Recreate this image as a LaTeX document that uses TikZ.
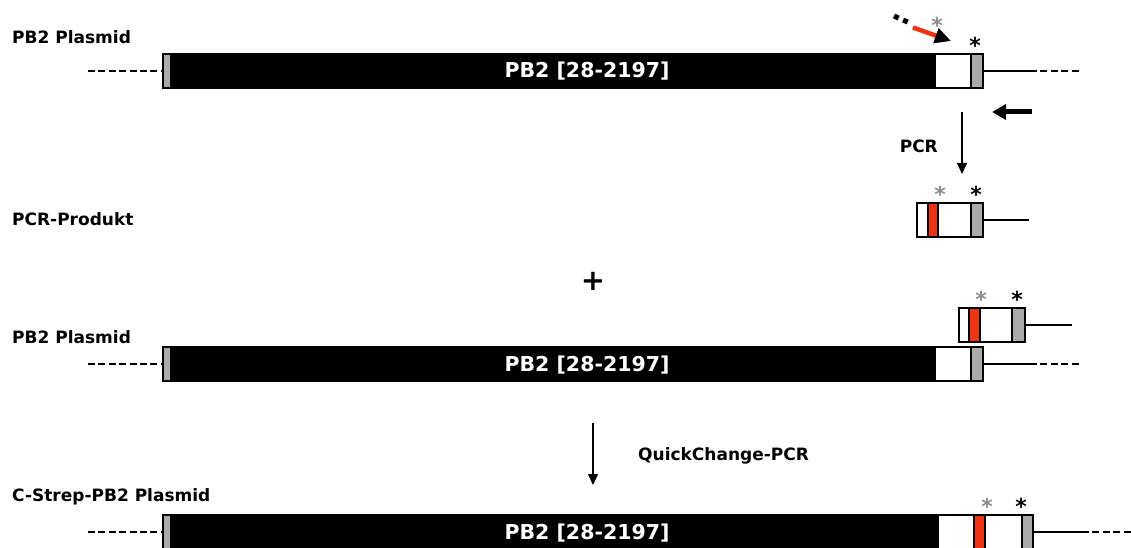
\documentclass[tikz,border=0pt]{standalone}
\usepackage{fontspec}
\setmainfont{DejaVu Sans}
\usetikzlibrary{arrows.meta}
\definecolor{capgray}{RGB}{170,170,170}
\definecolor{mutred}{RGB}{238,52,18}
\definecolor{stargray}{RGB}{140,140,140}
\tikzset{
  seg/.style={rectangle, draw=black, line width=1.4pt, inner sep=0pt, outer sep=0pt,
              minimum height=34pt, anchor=north west},
  graybox/.style={seg, fill=capgray},
  blackbox/.style={seg, fill=black},
  whitebox/.style={seg, fill=white},
  redbox/.style={seg, fill=mutred},
  tail/.style={line width=2.6pt},
  dashtail/.style={line width=2.6pt, dash pattern=on 7pt off 3.4pt},
  lbl/.style={font=\bfseries\fontsize{17}{20}\selectfont, anchor=base west, inner sep=0pt},
  bartext/.style={font=\bfseries\fontsize{20.5}{22}\selectfont, text=white, anchor=base, inner sep=0pt},
  star/.style={font=\bfseries\fontsize{22}{22}\selectfont, inner sep=0pt, anchor=center},
  flow/.style={line width=1.3pt, -{Triangle[length=11pt,width=10pt]}},
}
\begin{document}
\begin{tikzpicture}[x=1pt,y=-1pt]
\useasboundingbox (0,0) rectangle (1131,548);
\fill[white] (0,0) rectangle (1131,548);
\clip (0,0) rectangle (1131,548);

% ---------- PB2 plasmid ----------
\node[lbl] (lab1) at (12,44) {PB2 Plasmid};
\node[graybox, minimum width=8pt]   (a1cap)  at (163,54) {};
\node[blackbox, minimum width=764pt] (a1pb2) at (171,54) {};
\node[whitebox, minimum width=36pt] (a1ins)  at (935,54) {};
\node[graybox, minimum width=12pt]  (a1stop) at (971,54) {};
\node[bartext] (a1txt) at (587,78) {PB2 [28-2197]};
\coordinate (a1L) at (88,71);
\coordinate (a1M) at (1030,71);
\coordinate (a1R) at (1080,71);
\draw[dashtail] (a1L) -- (a1cap.west);
\draw[tail] (a1stop.east) -- (a1M);
\draw[dashtail] (a1M) -- (a1R);

% forward primer carrying the mutation
\coordinate (fp0) at (894,16);
\coordinate (fp1) at (911,23.5);
\coordinate (fp2) at (913,27.5);
\coordinate (fp3) at (951,41);
\draw[line width=5pt, dash pattern=on 5pt off 5pt] (fp0) -- (fp1);
\draw[mutred, line width=4.5pt, -{Triangle[length=16pt,width=15pt,color=black]}] (fp2) -- (fp3);
\node[star, text=stargray] (s1a) at (937,25) {*};
\node[star] (s1b) at (975,45) {*};

% reverse primer
\coordinate (rp0) at (1032,112);
\coordinate (rp1) at (992,112);
\draw[line width=5pt, -{Triangle[length=14pt,width=15pt]}] (rp0) -- (rp1);

% PCR step
\coordinate (pcr0) at (962,112);
\coordinate (pcr1) at (962,174);
\draw[flow] (pcr0) -- (pcr1);
\node[lbl, anchor=base east] (pcrlab) at (938,153) {PCR};

% ---------- PCR product ----------
\node[lbl] (lab2) at (12,225) {PCR-Produkt};
\node[whitebox, minimum width=11pt] (b1) at (917,203) {};
\node[redbox, minimum width=10pt]   (b2) at (928,203) {};
\node[whitebox, minimum width=33pt] (b3) at (938,203) {};
\node[graybox, minimum width=12pt]  (b4) at (971,203) {};
\coordinate (bR) at (1029,220);
\draw[tail] (b4.east) -- (bR);
\node[star, text=stargray] (s2a) at (940,194) {*};
\node[star] (s2b) at (976,194) {*};

\node[font=\bfseries\fontsize{29}{29}\selectfont, inner sep=0pt] (plus) at (593,281) {+};

% ---------- product annealed to the plasmid ----------
\node[whitebox, minimum width=10pt] (c1) at (959,308) {};
\node[redbox, minimum width=11pt]   (c2) at (969,308) {};
\node[whitebox, minimum width=32pt] (c3) at (980,308) {};
\node[graybox, minimum width=13pt]  (c4) at (1012,308) {};
\coordinate (cR) at (1072,325);
\draw[tail] (c4.east) -- (cR);
\node[star, text=stargray] (s3a) at (981,299) {*};
\node[star] (s3b) at (1017,299) {*};

\node[lbl] (lab3) at (12,343) {PB2 Plasmid};
\node[graybox, minimum width=8pt]   (d1cap)  at (163,347) {};
\node[blackbox, minimum width=764pt] (d1pb2) at (171,347) {};
\node[whitebox, minimum width=36pt] (d1ins)  at (935,347) {};
\node[graybox, minimum width=12pt]  (d1stop) at (971,347) {};
\node[bartext] (d1txt) at (587,371) {PB2 [28-2197]};
\coordinate (d1L) at (88,364);
\coordinate (d1M) at (1030,364);
\coordinate (d1R) at (1080,364);
\draw[dashtail] (d1L) -- (d1cap.west);
\draw[tail] (d1stop.east) -- (d1M);
\draw[dashtail] (d1M) -- (d1R);

% QuickChange step
\coordinate (qc0) at (593,423);
\coordinate (qc1) at (593,485);
\draw[flow] (qc0) -- (qc1);
\node[lbl] (qclab) at (638,460) {QuickChange-PCR};

% ---------- final construct ----------
\node[lbl] (lab4) at (12,501) {C-Strep-PB2 Plasmid};
\node[graybox, minimum width=8pt]   (e1cap) at (163,515) {};
\node[blackbox, minimum width=767pt] (e1pb2) at (171,515) {};
\node[whitebox, minimum width=36pt] (e1ins) at (938,515) {};
\node[redbox, minimum width=11pt]   (e1mut) at (974,515) {};
\node[whitebox, minimum width=37pt] (e1tag) at (985,515) {};
\node[graybox, minimum width=11pt]  (e1stop) at (1022,515) {};
\node[bartext] (e1txt) at (587,539) {PB2 [28-2197]};
\coordinate (e1L) at (88,532);
\coordinate (e1M) at (1082,532);
\coordinate (e1R) at (1135,532);
\draw[dashtail] (e1L) -- (e1cap.west);
\draw[tail] (e1stop.east) -- (e1M);
\draw[dashtail] (e1M) -- (e1R);
\node[star, text=stargray] (s4a) at (987,506) {*};
\node[star] (s4b) at (1021,506) {*};
\end{tikzpicture}
\end{document}
